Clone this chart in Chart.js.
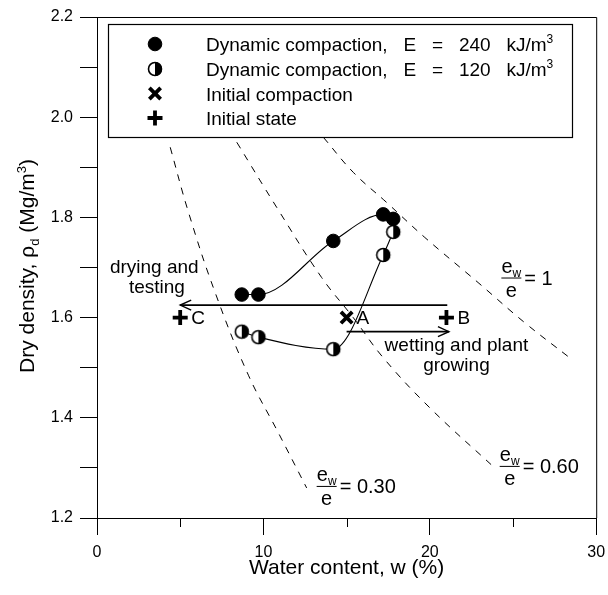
<!DOCTYPE html>
<html>
<head>
<meta charset="utf-8">
<script src="https://cdn.jsdelivr.net/npm/chart.js@4.4.1/dist/chart.umd.min.js"></script>
<style>
  html, body { margin: 0; padding: 0; background: #fff; }
  #wrap { width: 608px; height: 595px; position: relative; }
</style>
</head>
<body>
<div id="wrap"><canvas id="chart"></canvas></div>
<script>
// water content (%) / dry density (Mg/m3)
const heavyW = [8.7, 9.7, 14.2, 17.2, 17.8];
const heavyRho = [1.646, 1.646, 1.753, 1.806, 1.797];
const lightW = [8.7, 9.7, 14.2, 17.2, 17.8];
const lightRho = [1.572, 1.561, 1.537, 1.725, 1.771];
const compactW = [15.0];
const compactRho = [1.60];
const stateW = [5.0, 21.0];
const stateRho = [1.60, 1.60];
const stateNames = ['C', 'B'];
const compactNames = ['A'];

// e_w/e lines
const ratio30W = [4.4, 5.5, 7.1, 9.1, 10.9, 12.6];
const ratio30Rho = [1.94, 1.81, 1.65, 1.485, 1.37, 1.26];
const ratio60W = [8.4, 10.8, 13.5, 15.4, 17.2, 20.0, 23.9];
const ratio60Rho = [1.95, 1.82, 1.68, 1.60, 1.52, 1.42, 1.30];
const ratio100W = [13.6, 15.4, 17.4, 19.7, 22.9, 25.7, 28.4];
const ratio100Rho = [1.96, 1.89, 1.83, 1.76, 1.67, 1.59, 1.52];

// drying / wetting paths
const dryW = [5.0, 21.05];
const dryRho = [1.625, 1.625];
const wetW = [15.0, 21.15];
const wetRho = [1.572, 1.572];

const xTicks = [0, 10, 20, 30];
const yTicks = [1.2, 1.4, 1.6, 1.8, 2.0, 2.2];

const FONT = '"Liberation Sans", Arial, sans-serif';
const pts = (xs, ys) => xs.map((x, i) => ({ x: x, y: ys[i] }));

// half filled marker
function halfDot(r) {
  const c = document.createElement('canvas');
  const size = 2 * r + 4;
  c.width = c.height = size;
  const g = c.getContext('2d');
  const m = size / 2;
  g.fillStyle = '#fff';
  g.beginPath(); g.arc(m, m, r, 0, Math.PI * 2); g.fill();
  g.fillStyle = '#000';
  g.beginPath(); g.moveTo(m, m - r); g.arc(m, m, r, -Math.PI / 2, Math.PI / 2); g.closePath(); g.fill();
  g.lineWidth = 1.6; g.strokeStyle = '#000';
  g.beginPath(); g.arc(m, m, r - 0.5, 0, Math.PI * 2); g.stroke();
  return c;
}
const halfMarker = halfDot(7);

function rich(ctx, parts, x, y, size, align) {
  const small = Math.round(size * 0.62);
  const font = p => (p[1] ? small : size) + 'px ' + FONT;
  let total = 0;
  parts.forEach(p => { ctx.font = font(p); total += ctx.measureText(p[0]).width; });
  let cx = align === 'center' ? x - total / 2 : align === 'right' ? x - total : x;
  ctx.textAlign = 'left';
  ctx.textBaseline = 'alphabetic';
  parts.forEach(p => {
    ctx.font = font(p);
    const dy = p[1] === 'sub' ? size * 0.22 : p[1] === 'sup' ? -size * 0.4 : 0;
    ctx.fillText(p[0], cx, y + dy);
    cx += ctx.measureText(p[0]).width;
  });
}

// e_w/e = value, anchored at the left end of the fraction bar
function ratioLabel(ctx, bx, by, value) {
  const size = 20;
  ctx.fillStyle = '#000';
  ctx.strokeStyle = '#000';
  ctx.lineWidth = 1;
  ctx.beginPath(); ctx.moveTo(bx, by + 0.5); ctx.lineTo(bx + 20, by + 0.5); ctx.stroke();
  rich(ctx, [['e'], ['w', 'sub']], bx + 10, by - 5, size, 'center');
  rich(ctx, [['e']], bx + 10, by + 19, size, 'center');
  rich(ctx, [['= ' + value]], bx + 23, by + 7, size, 'left');
}

const annotate = {
  id: 'annotate',
  afterDatasetsDraw(chart) {
    const { ctx, chartArea, scales } = chart;
    const xs = scales.x, ys = scales.y;
    ctx.save();

    // frame on top and right
    ctx.strokeStyle = '#000';
    ctx.lineWidth = 1;
    ctx.beginPath();
    ctx.moveTo(chartArea.left, chartArea.top + 0.5);
    ctx.lineTo(chartArea.right + 0.5, chartArea.top + 0.5);
    ctx.lineTo(chartArea.right + 0.5, chartArea.bottom);
    ctx.stroke();

    // minor x ticks
    [5, 15, 25].forEach(v => {
      const px = Math.round(xs.getPixelForValue(v)) + 0.5;
      ctx.beginPath(); ctx.moveTo(px, chartArea.bottom); ctx.lineTo(px, chartArea.bottom + 9); ctx.stroke();
    });

    // arrow heads
    chart.data.datasets.forEach((ds, i) => {
      if (!ds.arrow) return;
      const el = chart.getDatasetMeta(i).data;
      const tip = ds.arrow === 'start' ? el[0] : el[el.length - 1];
      const dir = ds.arrow === 'start' ? 1 : -1;
      ctx.lineWidth = 1.4;
      ctx.beginPath();
      ctx.moveTo(tip.x + dir * 11, tip.y - 5);
      ctx.lineTo(tip.x, tip.y);
      ctx.lineTo(tip.x + dir * 11, tip.y + 5);
      ctx.stroke();
    });

    // point names
    ctx.fillStyle = '#000';
    ctx.font = '19px ' + FONT;
    ctx.textAlign = 'left';
    ctx.textBaseline = 'middle';
    stateW.forEach((w, i) => ctx.fillText(stateNames[i], xs.getPixelForValue(w) + 11, ys.getPixelForValue(stateRho[i]) + 1));
    compactW.forEach((w, i) => ctx.fillText(compactNames[i], xs.getPixelForValue(w) + 10, ys.getPixelForValue(compactRho[i]) + 1));

    // path captions
    ctx.textAlign = 'center';
    ctx.fillText('drying and', xs.getPixelForValue(3.44), ys.getPixelForValue(1.70));
    ctx.fillText('testing', xs.getPixelForValue(3.6), ys.getPixelForValue(1.66));
    ctx.fillText('wetting and plant', xs.getPixelForValue(21.6), ys.getPixelForValue(1.544));
    ctx.fillText('growing', xs.getPixelForValue(21.6), ys.getPixelForValue(1.504));

    // e_w/e labels
    ratioLabel(ctx, xs.getPixelForValue(24.3), ys.getPixelForValue(1.68), '1');
    ratioLabel(ctx, xs.getPixelForValue(24.2), ys.getPixelForValue(1.304), '0.60');
    ratioLabel(ctx, xs.getPixelForValue(13.2), ys.getPixelForValue(1.264), '0.30');

    // legend box
    const lx = 108, ly = 24, lw = 464, lh = 113;
    ctx.fillStyle = '#fff';
    ctx.fillRect(lx, ly, lw, lh);
    ctx.strokeStyle = '#000';
    ctx.lineWidth = 1.2;
    ctx.strokeRect(lx + 0.5, ly + 0.5, lw, lh);
    const rows = [44, 69, 93.5, 118];
    const marks = [0, 1, 2, 3].map(i => chart.data.datasets[i]);
    marks.forEach((ds, i) => {
      ctx.fillStyle = '#000';
      ctx.strokeStyle = '#000';
      ctx.lineWidth = ds.pointBorderWidth;
      Chart.helpers.drawPoint(ctx, { pointStyle: ds.pointStyle, radius: ds.pointRadius, borderWidth: ds.pointBorderWidth, rotation: 0 }, 155, rows[i]);
    });
    ctx.fillStyle = '#000';
    rich(ctx, [['Dynamic compaction,   E   =   240   kJ/m'], ['3', 'sup']], 206, rows[0] + 7, 19, 'left');
    rich(ctx, [['Dynamic compaction,   E   =   120   kJ/m'], ['3', 'sup']], 206, rows[1] + 7, 19, 'left');
    rich(ctx, [['Initial compaction']], 206, rows[2] + 7, 19, 'left');
    rich(ctx, [['Initial state']], 206, rows[3] + 7, 19, 'left');

    // axis titles
    ctx.fillStyle = '#000';
    rich(ctx, [['Water content, w (%)']], (chartArea.left + chartArea.right) / 2, 574, 21, 'center');
    ctx.translate(34, 266);
    ctx.rotate(-Math.PI / 2);
    rich(ctx, [['Dry density, \u03c1'], ['d', 'sub'], [' (Mg/m'], ['3', 'sup'], [')']], 0, 0, 21, 'center');
    ctx.restore();
  }
};

const dashed = (xs, ys) => ({
  data: pts(xs, ys), showLine: true, borderColor: '#000', borderWidth: 1,
  borderDash: [7, 7], pointRadius: 0, tension: 0.4, fill: false
});

new Chart(document.getElementById('chart'), {
  type: 'scatter',
  data: {
    datasets: [
      { label: 'Dynamic compaction, E = 240 kJ/m3', data: pts(heavyW, heavyRho), showLine: true,
        cubicInterpolationMode: 'monotone', borderColor: '#000', borderWidth: 1.1,
        pointStyle: 'circle', pointRadius: 6.8, pointBorderWidth: 1, pointBackgroundColor: '#000', pointBorderColor: '#000' },
      { label: 'Dynamic compaction, E = 120 kJ/m3', data: pts(lightW, lightRho), showLine: true,
        cubicInterpolationMode: 'monotone', borderColor: '#000', borderWidth: 1.1,
        pointStyle: halfMarker, pointRadius: 7, pointBorderWidth: 1 },
      { label: 'Initial compaction', data: pts(compactW, compactRho),
        pointStyle: 'crossRot', pointRadius: 8, pointBorderWidth: 3.8, pointBorderColor: '#000' },
      { label: 'Initial state', data: pts(stateW, stateRho),
        pointStyle: 'cross', pointRadius: 7.5, pointBorderWidth: 3.8, pointBorderColor: '#000' },
      { data: pts(dryW, dryRho), showLine: true, borderColor: '#000', borderWidth: 1.6, pointRadius: 0, arrow: 'start' },
      { data: pts(wetW, wetRho), showLine: true, borderColor: '#000', borderWidth: 1.6, pointRadius: 0, arrow: 'end' },
      dashed(ratio30W, ratio30Rho),
      dashed(ratio60W, ratio60Rho),
      dashed(ratio100W, ratio100Rho)
    ]
  },
  options: {
    responsive: true,
    maintainAspectRatio: false,
    animation: false,
    layout: { padding: { top: 17, right: 5, left: 0, bottom: 0 } },
    plugins: { legend: { display: false }, tooltip: { enabled: false } },
    scales: {
      x: {
        type: 'linear', min: 0, max: 30,
        afterFit: s => { s.height = 77; s.paddingLeft = 0; s.paddingRight = 0; },
        border: { color: '#000', width: 1 },
        grid: { drawOnChartArea: false, tickLength: 17, tickColor: '#000' },
        ticks: {
          stepSize: 10, autoSkip: false, maxRotation: 0, padding: 8,
          color: '#000', font: { family: FONT, size: 16 },
          callback: v => xTicks.includes(v) ? String(v) : ''
        }
      },
      y: {
        min: 1.2, max: 2.2,
        afterFit: s => { s.width = 97; s.paddingTop = 0; s.paddingBottom = 0; },
        border: { color: '#000', width: 1 },
        grid: { drawOnChartArea: false, tickLength: 17, tickColor: '#000' },
        ticks: {
          stepSize: 0.1, autoSkip: false, padding: 7,
          color: '#000', font: { family: FONT, size: 16 },
          callback: v => yTicks.some(t => Math.abs(t - v) < 1e-6) ? v.toFixed(1) : ''
        }
      }
    }
  },
  plugins: [annotate]
});
</script>
</body>
</html>
